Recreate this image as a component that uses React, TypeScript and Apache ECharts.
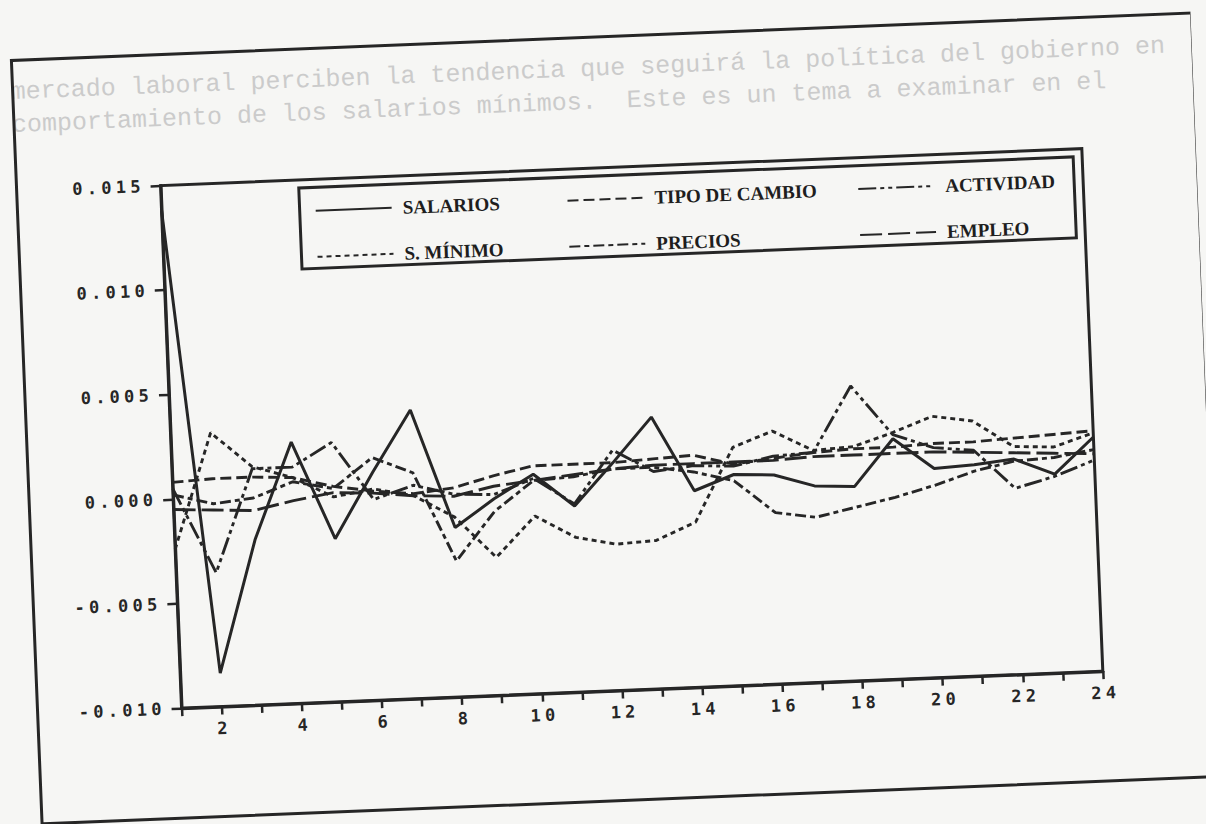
import React, { useEffect, useRef } from "react";
import * as echarts from "echarts";

// Periods after the shock (x axis)
const PERIODS = [1, 2, 3, 4, 5, 6, 7, 8, 9, 10, 11, 12, 13, 14, 15, 16, 17, 18, 19, 20, 21, 22, 23, 24];

// Y axis ticks
const Y_TICKS = [-0.01, -0.005, 0, 0.005, 0.01, 0.015];

// Responses of each variable
const SALARIOS = [0.0138, -0.0084, -0.0021, 0.0025, -0.0022, 0.0009, 0.0038, -0.0019, -0.0006, 0.0005, -0.0011, 0.0009, 0.003, -0.0006, 0.0001, 0.0, -0.0006, -0.0007, 0.0015, 0.0, 0.0001, 0.0003, -0.0005, 0.0012];
const S_MINIMO = [-0.0024, 0.0031, 0.0014, 0.0008, -0.0002, 0.0001, -0.0003, -0.0014, -0.0034, -0.0015, -0.0026, -0.003, -0.0029, -0.0021, 0.0014, 0.0021, 0.0011, 0.0012, 0.0018, 0.0025, 0.0022, 0.0009, 0.0008, 0.0014];
const TIPO_DE_CAMBIO = [0.0008, 0.0009, 0.0009, 0.0008, 0.0003, 0.0, -0.0002, 0.0, 0.0005, 0.0009, 0.0009, 0.0009, 0.001, 0.0011, 0.0006, 0.0008, 0.001, 0.0011, 0.0011, 0.0012, 0.0012, 0.0013, 0.0014, 0.0015];
const PRECIOS = [0.0002, -0.0003, -0.0001, 0.0006, 0.0002, 0.0016, 0.0008, -0.0035, -0.0012, 0.0002, 0.0003, 0.0006, 0.0006, 0.0003, -0.0002, -0.0018, -0.0021, -0.0017, -0.0013, -0.0008, -0.0002, 0.0002, 0.0003, 0.0006];
const ACTIVIDAD = [0.0005, -0.0036, 0.0013, 0.0013, 0.0024, -0.0004, 0.0002, -0.0003, -0.0004, 0.0003, -0.001, 0.0015, 0.0004, 0.0006, 0.0005, 0.0009, 0.001, 0.0041, 0.0017, 0.001, 0.0008, -0.0011, -0.0006, 0.0001];
const EMPLEO = [-0.0005, -0.0006, -0.0007, -0.0003, 0.0, -0.0001, -0.0003, -0.0004, 0.0, 0.0002, 0.0004, 0.0006, 0.0007, 0.0007, 0.0007, 0.0007, 0.0008, 0.0008, 0.0008, 0.0008, 0.0007, 0.0006, 0.0005, 0.0004];

const INK = "#262626";
const PAPER = "#f6f6f4";
const SHOW_THROUGH = "#cbcbcb";

// wide dot-matrix style digits: one fixed cell per character
const spaced = (s: string) =>
  s
    .split("")
    .map((ch) => `{c|${ch}}`)
    .join("");

const CELL = {
  c: {
    width: 14.5,
    align: "center",
    fontFamily: "DejaVu Sans Mono",
    fontWeight: "bold",
    fontSize: 17,
    color: INK,
  },
};

function lineSeries(name: string, values: number[], dash: any, width = 2.9) {
  return {
    name,
    type: "line",
    data: PERIODS.map((p, i) => [p, values[i]]),
    symbol: "none",
    showSymbol: false,
    lineStyle: { color: INK, width, type: dash },
    itemStyle: { color: INK },
    z: 3,
  };
}

function legendColumn(names: string[], left: number) {
  return {
    data: names,
    orient: "vertical",
    left,
    top: 190,
    itemWidth: 76,
    itemHeight: 18,
    itemGap: 27,
    padding: 0,
    selectedMode: false,
    itemStyle: { opacity: 0 },
    textStyle: {
      fontFamily: "Liberation Serif",
      fontWeight: "bold",
      fontSize: 19,
      color: "#1e1e1e",
      padding: [0, 0, 0, 6],
    },
  };
}

// faint lines of the page's running text
function pageLine(text: string, y: number) {
  return {
    type: "text",
    x: 24,
    y,
    style: {
      text,
      fill: SHOW_THROUGH,
      font: "25px 'Liberation Mono'",
      textVerticalAlign: "middle",
    },
    z: 0,
  };
}

export default function App() {
  const ref = useRef<HTMLDivElement>(null);

  useEffect(() => {
    if (!ref.current) return;
    const chart = echarts.init(ref.current, null, { renderer: "svg" });
    chart.setOption({
      animation: false,
      backgroundColor: "transparent",
      grid: {
        left: 170,
        top: 168,
        width: 922,
        height: 523,
        show: true,
        borderColor: INK,
        borderWidth: 3,
        backgroundColor: "transparent",
      },
      legend: [
        legendColumn(["SALARIOS", "S. MÍNIMO"], 323),
        legendColumn(["TIPO DE CAMBIO", "PRECIOS"], 575),
        legendColumn(["ACTIVIDAD", "EMPLEO"], 866),
      ],
      xAxis: {
        type: "value",
        min: 1,
        max: 24,
        interval: 1,
        splitLine: { show: false },
        axisLine: { show: true, onZero: false, lineStyle: { color: INK, width: 3 } },
        axisTick: { show: true, length: 8, lineStyle: { color: INK, width: 2.5 } },
        axisLabel: {
          margin: 13,
          formatter: (v: number) => (v % 2 === 0 ? spaced(String(v)) : ""),
          rich: CELL,
        },
      },
      yAxis: {
        type: "value",
        min: Y_TICKS[0],
        max: Y_TICKS[Y_TICKS.length - 1],
        interval: 0.005,
        splitLine: { show: false },
        axisLine: { show: true, onZero: false, lineStyle: { color: INK, width: 3 } },
        axisTick: { show: true, length: 10, lineStyle: { color: INK, width: 2.5 } },
        axisLabel: {
          margin: 18,
          formatter: (v: number) => spaced((Math.abs(v) < 1e-9 ? 0 : v).toFixed(3)),
          rich: CELL,
        },
      },
      graphic: [
        // outer frame of the figure
        {
          type: "rect",
          shape: { x: 26, y: 37, width: 1181, height: 764 },
          style: { fill: "none", stroke: INK, lineWidth: 3 },
          z: 1,
        },
        // legend box
        {
          type: "rect",
          shape: { x: 308, y: 176, width: 775, height: 81 },
          style: { fill: PAPER, stroke: INK, lineWidth: 3 },
          z: 4,
        },
        pageLine("mercado laboral perciben la tendencia que seguirá la política del gobierno en", 69),
        pageLine("comportamiento de los salarios mínimos.  Este es un tema a examinar en el", 102),
      ],
      series: [
        lineSeries("SALARIOS", SALARIOS, "solid", 3),
        lineSeries("S. MÍNIMO", S_MINIMO, [5, 4]),
        lineSeries("TIPO DE CAMBIO", TIPO_DE_CAMBIO, [11, 5]),
        lineSeries("PRECIOS", PRECIOS, [11, 4, 5, 4]),
        lineSeries("ACTIVIDAD", ACTIVIDAD, [18, 4, 4, 4, 4, 4]),
        lineSeries("EMPLEO", EMPLEO, [22, 6]),
      ],
    });
    return () => chart.dispose();
  }, []);

  return (
    <div
      style={{
        position: "fixed",
        left: 0,
        top: 0,
        width: 1206,
        height: 824,
        overflow: "hidden",
        background: PAPER,
      }}
    >
      <div
        ref={ref}
        style={{
          position: "absolute",
          left: 0,
          top: 0,
          width: 1206,
          height: 824,
          transform: "rotate(-2.3deg)",
          transformOrigin: "603px 412px",
        }}
      />
    </div>
  );
}
